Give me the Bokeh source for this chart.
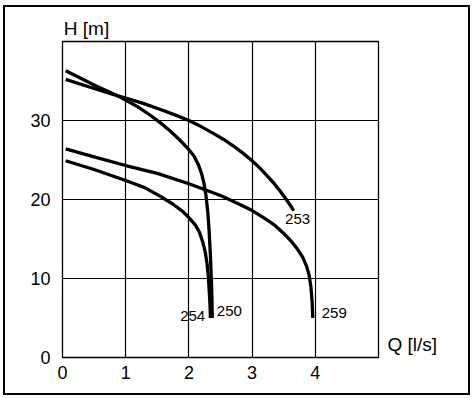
from bokeh.plotting import figure
from bokeh.models import FixedTicker, Label, LinearAxis, Range1d
from bokeh.embed import file_html
from bokeh.resources import INLINE

# ---- data ----
q_250 = [0.05, 0.25, 0.50, 0.80, 1.00, 1.20, 1.40, 1.55, 1.70, 1.86, 2.00, 2.08, 2.15, 2.20,
         2.24, 2.27, 2.30, 2.32, 2.34, 2.355, 2.365, 2.37]
h_250 = [36.3, 35.5, 34.5, 33.4, 32.6, 31.7, 30.6, 29.7, 28.7, 27.5, 26.3, 25.5, 24.4, 23.3,
         22.0, 20.5, 18.3, 16.0, 13.0, 10.0, 7.5, 5.0]

q_253 = [0.05, 0.40, 0.80, 1.00, 1.30, 1.55, 1.80, 2.00, 2.20, 2.40, 2.55, 2.70, 2.85, 3.00,
         3.12, 3.25, 3.35, 3.44, 3.55, 3.66]
h_253 = [35.2, 34.3, 33.3, 32.85, 32.1, 31.4, 30.65, 30.0, 29.2, 28.3, 27.6, 26.8, 25.9, 24.9,
         24.0, 22.9, 22.0, 21.1, 19.9, 18.6]

q_259 = [0.05, 0.50, 1.00, 1.50, 2.00, 2.50, 2.80, 3.00, 3.20, 3.35, 3.50, 3.62, 3.72, 3.80,
         3.86, 3.90, 3.93, 3.95, 3.96]
h_259 = [26.4, 25.4, 24.3, 23.3, 22.0, 20.5, 19.4, 18.6, 17.6, 16.8, 15.7, 14.7, 13.7, 12.7,
         11.6, 10.5, 9.0, 7.0, 5.0]

q_254 = [0.05, 0.50, 1.00, 1.30, 1.55, 1.75, 1.90, 2.00, 2.10, 2.17, 2.22, 2.26, 2.29, 2.31,
         2.325, 2.335, 2.34]
h_254 = [24.9, 23.8, 22.4, 21.5, 20.4, 19.4, 18.5, 17.7, 16.8, 15.8, 14.6, 13.3, 11.7, 10.0,
         8.0, 6.5, 5.0]

x_ticks = [0, 1, 2, 3, 4]
y_ticks = [0, 10, 20, 30]
x_grid = [1, 2, 3, 4]
y_grid = [10, 20, 30]
x_title = "Q [l/s]"
y_title = "H [m]"

curve_names = ["250", "253", "254", "259"]
# label anchor points (data units)
label_q = [2.64, 3.72, 2.06, 4.30]
label_h = [5.9, 17.5, 5.2, 5.6]

# positions of the two axis titles on helper scales (x in 1/100 l/s, y in 1/10 m)
y_title_at = 38
x_title_at = 17

FONT = "Liberation Sans"

p = figure(
    frame_width=316, frame_height=316,
    x_range=(0, 5), y_range=(0, 40),
    min_border_left=57, min_border_right=90,
    min_border_top=34, min_border_bottom=36,
    output_backend="svg", toolbar_location=None,
    background_fill_color="white", border_fill_color="white",
)
p.styles = {"border": "2.4px solid black", "margin-left": "3px", "margin-top": "5px"}

p.outline_line_color = "black"
p.outline_line_width = 1.3
p.outline_line_alpha = 1.0

p.xgrid.ticker = FixedTicker(ticks=x_grid)
p.ygrid.ticker = FixedTicker(ticks=y_grid)
for g in (p.xgrid, p.ygrid):
    g.grid_line_color = "black"
    g.grid_line_width = 1.2
    g.grid_line_alpha = 1.0

bottom_ax = p.below[0]
left_ax = p.left[0]
bottom_ax.ticker = FixedTicker(ticks=x_ticks)
left_ax.ticker = FixedTicker(ticks=y_ticks)

p.extra_x_ranges = {"lab": Range1d(0, 500)}
p.extra_y_ranges = {"lab": Range1d(0, 400)}
top_ax = LinearAxis(x_range_name="lab", ticker=FixedTicker(ticks=[y_title_at]),
                    major_label_overrides={y_title_at: y_title})
right_ax = LinearAxis(y_range_name="lab", ticker=FixedTicker(ticks=[x_title_at]),
                      major_label_overrides={x_title_at: x_title})
p.add_layout(top_ax, "above")
p.add_layout(right_ax, "right")

for ax in (bottom_ax, left_ax, top_ax, right_ax):
    ax.axis_line_color = None
    ax.major_tick_line_color = None
    ax.minor_tick_line_color = None
    ax.major_tick_out = 0
    ax.major_tick_in = 0
    ax.minor_tick_out = 0
    ax.major_label_text_font = FONT
    ax.major_label_text_font_size = "18px"
    ax.major_label_text_color = "black"
top_ax.major_label_text_font_size = "19px"
right_ax.major_label_text_font_size = "19px"
bottom_ax.major_label_standoff = 8
left_ax.major_label_standoff = 12
top_ax.major_label_standoff = 3
right_ax.major_label_standoff = 9

for q, h in ((q_250, h_250), (q_253, h_253), (q_259, h_259), (q_254, h_254)):
    p.line(q, h, line_color="black", line_width=3.3, line_join="round", line_cap="butt")

for name, lq, lh in zip(curve_names, label_q, label_h):
    p.add_layout(Label(x=lq, y=lh, text=name, text_font=FONT, text_font_size="15px",
                       text_color="black", text_align="center", text_baseline="middle"))

open("out.html", "w").write(file_html(p, INLINE))
